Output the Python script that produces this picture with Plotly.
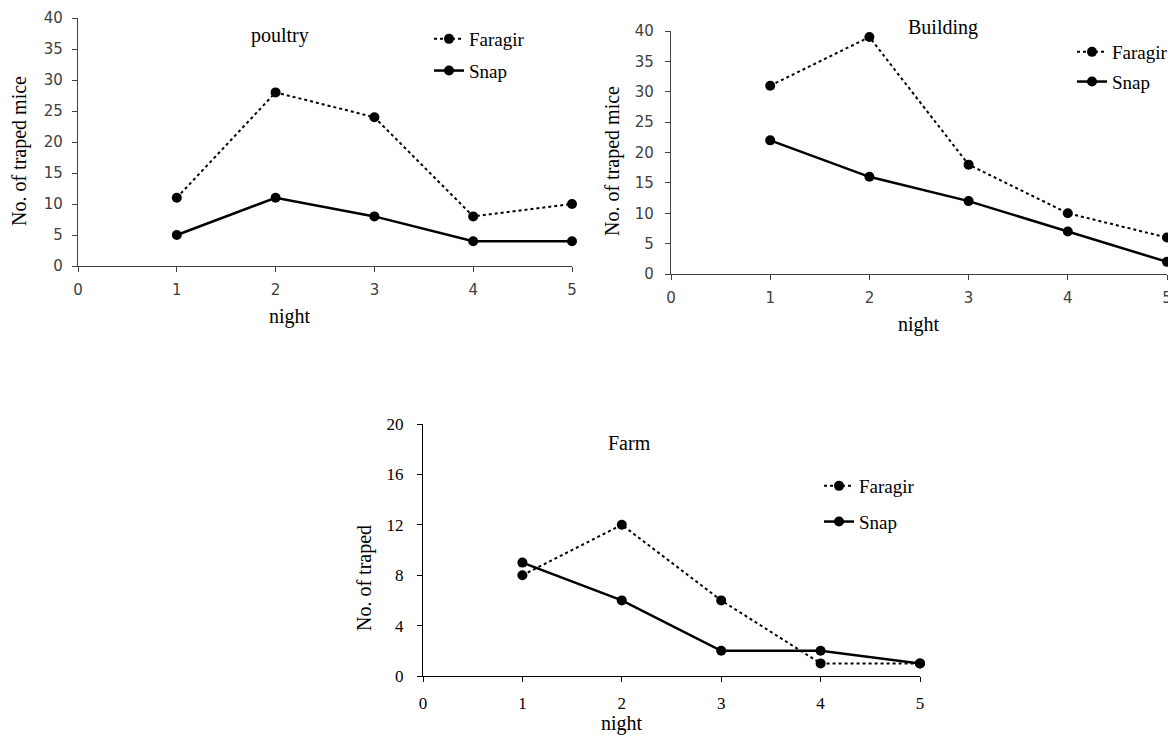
import plotly.graph_objects as go

nights = [1, 2, 3, 4, 5]
poultry_faragir = [11, 28, 24, 8, 10]
poultry_snap = [5, 11, 8, 4, 4]
building_faragir = [31, 39, 18, 10, 6]
building_snap = [22, 16, 12, 7, 2]
farm_faragir = [8, 12, 6, 1, 1]
farm_snap = [9, 6, 2, 2, 1]

OFF = 8  # default page body margin
FW, FH = 1176 - OFF, 735 - OFF
SERIF = "Liberation Serif, Times New Roman, serif"
SANS = "DejaVu Sans, sans-serif"


def px_x(p):
    return (p - OFF) / FW


def px_y(p):
    return 1 - (p - OFF) / FH


fig = go.Figure()

panels = [
    (poultry_faragir, poultry_snap, "", "legend"),
    (building_faragir, building_snap, "2", "legend2"),
    (farm_faragir, farm_snap, "3", "legend3"),
]

for far, snap, sfx, leg in panels:
    fig.add_trace(go.Scatter(
        x=nights, y=far, name="Faragir", mode="lines+markers",
        line=dict(color="black", width=2, dash="dot"),
        marker=dict(color="black", size=10),
        xaxis="x" + sfx, yaxis="y" + sfx, legend=leg,
        legendgroup="f" + sfx, cliponaxis=False))
    fig.add_trace(go.Scatter(
        x=nights, y=snap, name="Snap", mode="lines+markers",
        line=dict(color="black", width=2.5),
        marker=dict(color="black", size=10),
        xaxis="x" + sfx, yaxis="y" + sfx, legend=leg,
        legendgroup="s" + sfx, cliponaxis=False))


def style(font, size, color, standoff):
    return dict(showline=True, linecolor=color, linewidth=1.3,
                ticks="outside", ticklen=5, tickcolor=color, tickwidth=1.3,
                showgrid=False, zeroline=False, automargin=False,
                ticklabelstandoff=standoff,
                tickfont=dict(family=font, size=size, color=color))


def xax(domain, anchor, font, size, color, standoff):
    return dict(domain=domain, anchor=anchor, range=[0, 5], tickvals=[0, 1, 2, 3, 4, 5],
                **style(font, size, color, standoff))


def yax(domain, anchor, rng, dtick, font, size, color, standoff):
    return dict(domain=domain, anchor=anchor, range=rng, dtick=dtick,
                **style(font, size, color, standoff))


G = "#404040"
fig.update_layout(
    width=FW, height=FH, margin=dict(l=0, r=0, t=0, b=0, autoexpand=False),
    paper_bgcolor="white", plot_bgcolor="white",
    xaxis=xax([px_x(78), px_x(572)], "y", SANS, 15, G, 5),
    yaxis=yax([px_y(266), px_y(18)], "x", [0, 40], 5, SANS, 15, G, 6),
    xaxis2=xax([px_x(671), px_x(1167)], "y2", SANS, 15, G, 5),
    yaxis2=yax([px_y(274), px_y(31)], "x2", [0, 40], 5, SANS, 15, G, 8),
    xaxis3=xax([px_x(423), px_x(920)], "y3", SERIF, 17, "black", 6),
    yaxis3=yax([px_y(676), px_y(424)], "x3", [0, 20], 4, SERIF, 17, "black", 10),
    showlegend=True,
)


def legend_cfg(x, y, gap):
    return dict(x=px_x(x), y=px_y(y), xanchor="left", yanchor="top",
                bgcolor="rgba(0,0,0,0)", font=dict(family=SERIF, size=19, color="black"),
                traceorder="grouped", tracegroupgap=gap)


fig.update_layout(
    legend=legend_cfg(429, 20, 4),
    legend2=legend_cfg(1072, 33, 2),
    legend3=legend_cfg(819, 467, 8),
)

annos = [
    (280, 35, "poultry", 0),
    (943, 27, "Building", 0),
    (629, 443, "Farm", 0),
    (290, 316, "night", 0),
    (919, 324, "night", 0),
    (622, 723, "night", 0),
    (19, 151, "No. of traped mice", -90),
    (612, 161, "No. of traped mice", -90),
    (364, 578, "No. of traped", -90),
]
for x, y, t, ang in annos:
    fig.add_annotation(x=px_x(x), y=px_y(y), xref="paper", yref="paper", text=t,
                       showarrow=False, textangle=ang,
                       font=dict(family=SERIF, size=20, color="black"),
                       xanchor="center", yanchor="middle")

fig.write_html("out.html")
